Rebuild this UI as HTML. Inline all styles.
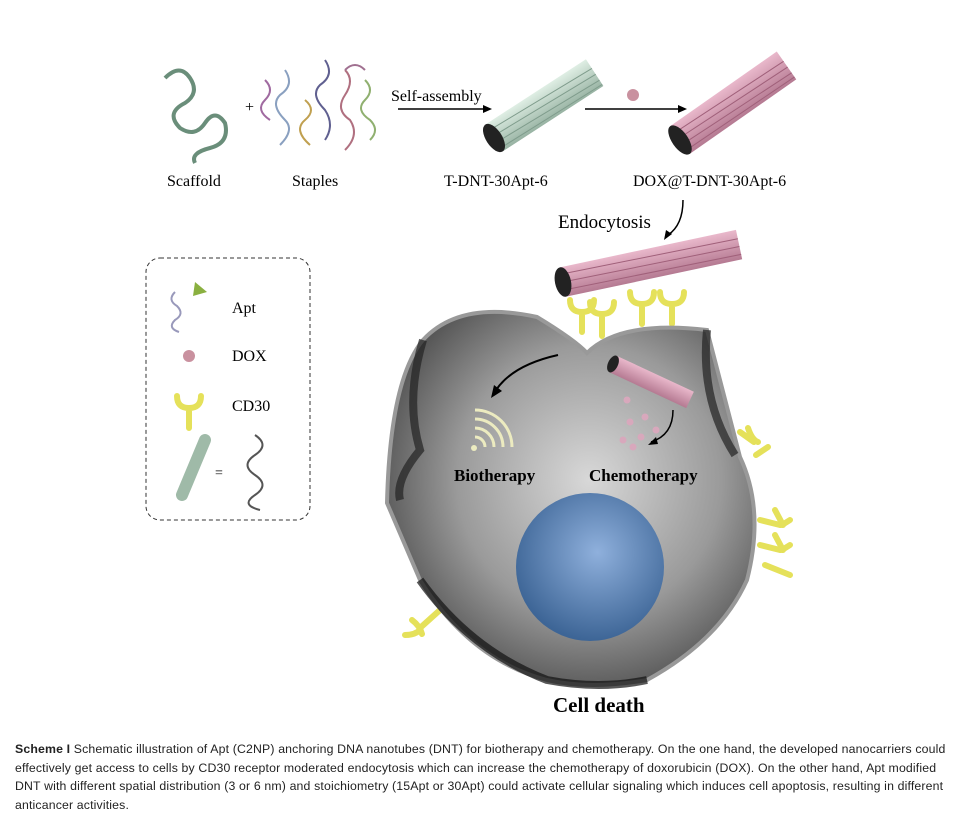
<!DOCTYPE html>
<html><head><meta charset="utf-8"><style>
body{margin:0;background:#fff;width:975px;height:820px;overflow:hidden;font-family:"Liberation Serif",serif}
.cap{position:absolute;left:15px;top:740px;width:960px;font-family:"Liberation Sans",sans-serif;font-size:12.3px;line-height:18.5px;color:#222;white-space:nowrap;letter-spacing:0.15px}
</style></head><body>
<svg width="975" height="740" style="position:absolute;left:0;top:0" xmlns="http://www.w3.org/2000/svg">
<defs>
<radialGradient id="cg" cx="0.55" cy="0.45" r="0.6"><stop offset="0" stop-color="#d8d8d8"/><stop offset="0.6" stop-color="#9a9a9a"/><stop offset="1" stop-color="#505050"/></radialGradient>
<radialGradient id="ng" cx="0.55" cy="0.4" r="0.6"><stop offset="0" stop-color="#8fb0dc"/><stop offset="1" stop-color="#3d6596"/></radialGradient>
<linearGradient id="pk" x1="0" y1="0" x2="0" y2="1"><stop offset="0" stop-color="#e9b8cb"/><stop offset="1" stop-color="#b57a92"/></linearGradient>
<linearGradient id="gn" x1="0" y1="0" x2="0" y2="1"><stop offset="0" stop-color="#dfeee4"/><stop offset="1" stop-color="#98b3a3"/></linearGradient>
</defs>
<path d="M165 78 q15-15 25 0 q10 15-5 25 q-20 10-5 25 q15 10 25-5 q10-15 20 0 q5 20-15 25 q-20 5-15 15" fill="none" stroke="#6a8e7a" stroke-width="4"/>
<text x="245" y="112" font-size="16">+</text>
<text x="167" y="186" font-size="16">Scaffold</text>
<g fill="none" stroke-width="2">
<path d="M265 80 q10 10 0 20 q-10 10 5 20" stroke="#a06aa0"/>
<path d="M285 70 q10 15-5 25 q-10 10 5 25 q10 10-5 25" stroke="#8aa0c0"/>
<path d="M305 100 q12 10 0 20 q-12 10 5 25" stroke="#c0a050"/>
<path d="M325 60 q10 15-5 25 q-10 10 5 25 q10 15 0 30" stroke="#606090"/>
<path d="M345 70 q10 10 0 25 q-10 15 5 25 q10 15-5 30" stroke="#b07080"/>
<path d="M365 80 q10 10 0 20 q-10 10 5 20 q10 10 0 20" stroke="#90b070"/>
<path d="M345 70 q10-10 20 0" stroke="#a07090"/>
</g>
<text x="292" y="186" font-size="16">Staples</text>
<text x="391" y="101" font-size="16">Self-assembly</text>
<line x1="398" y1="109" x2="486" y2="109" stroke="#000" stroke-width="1.5"/><path d="M492 109 l-9-4 v8z"/>
<g transform="translate(494,138) rotate(-33)"><rect x="0" y="-16" width="120" height="32" fill="url(#gn)"/><g stroke="#7f9c8c" stroke-width="1"><line x1="0" y1="-9" x2="120" y2="-5"/><line x1="0" y1="-2" x2="120" y2="2"/><line x1="0" y1="5" x2="120" y2="9"/><line x1="0" y1="12" x2="120" y2="14"/></g><ellipse cx="0" cy="0" rx="8" ry="16" fill="#222"/></g>
<text x="444" y="186" font-size="16">T-DNT-30Apt-6</text>
<circle cx="633" cy="95" r="6" fill="#c9919f"/>
<line x1="585" y1="109" x2="680" y2="109" stroke="#000" stroke-width="1.5"/><path d="M687 109 l-9-4 v8z"/>
<g transform="translate(680,140) rotate(-35)"><rect x="0" y="-17" width="130" height="34" fill="url(#pk)"/><g stroke="#a0607a" stroke-width="1"><line x1="0" y1="-9" x2="130" y2="-5"/><line x1="0" y1="-2" x2="130" y2="2"/><line x1="0" y1="5" x2="130" y2="9"/><line x1="0" y1="12" x2="130" y2="14"/></g><ellipse cx="0" cy="0" rx="8" ry="17" fill="#222"/></g>
<text x="633" y="186" font-size="16">DOX@T-DNT-30Apt-6</text>
<text x="558" y="228" font-size="19">Endocytosis</text>
<path d="M683 200 q0 25-15 35" fill="none" stroke="#000" stroke-width="1.5"/><path d="M664 240 l2-10 6 4z"/>
<rect x="146" y="258" width="164" height="262" rx="14" fill="none" stroke="#333" stroke-dasharray="4,3"/>
<path d="M175 292 q-8 8 2 14 q8 8-2 14 q-8 8 4 12" fill="none" stroke="#9999bb" stroke-width="2"/><path d="M195 282 l12 10 -14 4z" fill="#8ab040"/>
<text x="232" y="313" font-size="16">Apt</text>
<circle cx="189" cy="356" r="6" fill="#c9919f"/><text x="232" y="361" font-size="16">DOX</text>
<path d="M177 396 q0 12 12 12 q12 0 12-12 M189 408 v20" fill="none" stroke="#e5e15a" stroke-width="6" stroke-linecap="round"/>
<text x="232" y="411" font-size="16">CD30</text>
<line x1="182" y1="495" x2="205" y2="440" stroke="#9fbaa8" stroke-width="12" stroke-linecap="round"/>
<text x="215" y="477" font-size="14">=</text>
<path d="M255 435 q15 10 0 20 q-15 10 0 20 q15 10 0 20 q-15 10 5 15" fill="none" stroke="#555" stroke-width="2"/>
<g fill="none" stroke="#e5e15a" stroke-width="6" stroke-linecap="round">
<path d="M570 300 q0 12 12 12 q12 0 12-12 M582 312 v20"/><path d="M590 302 q0 12 12 12 q12 0 12-12 M602 314 v22"/>
<path d="M630 292 q0 12 12 12 q12 0 12-12 M642 304 v20"/><path d="M660 292 q0 12 12 12 q12 0 12-12 M672 304 v20"/>
<path d="M740 432 l14 10 M748 428 q4 12 10 14 M756 455 l12-8"/>
<path d="M760 520 l20 5 M775 510 l8 15 M790 520 l-8 5"/><path d="M760 545 l20 5 M775 535 l8 15 M790 545 l-8 5"/><path d="M765 565 l25 10"/>
<path d="M440 610 l-20 18 M412 620 q8 6 10 14 M405 635 q10 0 15-5"/>
</g>
<path d="M387 503 Q390 380 423 340 Q460 300 537 317 Q575 340 587 353 Q620 320 707 330 Q720 380 740 457 Q765 510 747 580 Q720 640 647 680 Q590 690 547 680 Q470 660 420 580 Z" fill="url(#cg)" stroke="#999" stroke-width="4"/>
<path d="M423 340 Q405 400 420 450 Q395 480 400 500" fill="none" stroke="#222" stroke-width="8" opacity="0.7"/>
<path d="M707 330 Q700 400 735 455" fill="none" stroke="#222" stroke-width="8" opacity="0.7"/>
<path d="M420 580 Q470 650 547 680 Q600 690 647 680" fill="none" stroke="#111" stroke-width="8" opacity="0.7"/>
<g transform="translate(563,282) rotate(-12)"><rect x="0" y="-15" width="180" height="30" fill="url(#pk)"/><g stroke="#a0607a"><line x1="0" y1="-8" x2="180" y2="-6"/><line x1="0" y1="0" x2="180" y2="2"/><line x1="0" y1="8" x2="180" y2="10"/></g><ellipse cx="0" cy="0" rx="8" ry="15" fill="#222"/></g>
<g transform="translate(613,364) rotate(25)"><rect x="0" y="-9" width="85" height="18" fill="url(#pk)"/><ellipse cx="0" cy="0" rx="5" ry="9" fill="#222"/></g>
<g fill="#d8a8bc"><circle cx="627" cy="400" r="3.5"/><circle cx="630" cy="422" r="3.5"/><circle cx="645" cy="417" r="3.5"/><circle cx="656" cy="430" r="3.5"/><circle cx="641" cy="437" r="3.5"/><circle cx="623" cy="440" r="3.5"/><circle cx="633" cy="447" r="3.5"/></g>
<path d="M673 410 q0 25-22 32" fill="none" stroke="#000" stroke-width="1.5"/><path d="M648 445 l8-8 2 7z"/>
<path d="M558 355 q-45 10-62 35" fill="none" stroke="#000" stroke-width="2"/><path d="M491 398 l3-13 8 6z"/>
<g fill="none" stroke="#ecebc0" stroke-width="3"><path d="M475 437 a10 10 0 0 1 10 10"/><path d="M475 428 a19 19 0 0 1 19 19"/><path d="M475 419 a28 28 0 0 1 28 28"/><path d="M475 410 a37 37 0 0 1 37 37"/></g>
<circle cx="474" cy="448" r="3" fill="#ecebc0"/>
<text x="454" y="481" font-size="17" font-weight="bold">Biotherapy</text>
<text x="589" y="481" font-size="17" font-weight="bold">Chemotherapy</text>
<circle cx="590" cy="567" r="74" fill="url(#ng)"/>
<text x="553" y="712" font-size="21" font-weight="bold">Cell death</text>
</svg>
<div class="cap"><b>Scheme I</b> Schematic illustration of Apt (C2NP) anchoring DNA nanotubes (DNT) for biotherapy and chemotherapy. On the one hand, the developed nanocarriers could<br>effectively get access to cells by CD30 receptor moderated endocytosis which can increase the chemotherapy of doxorubicin (DOX). On the other hand, Apt modified<br>DNT with different spatial distribution (3 or 6 nm) and stoichiometry (15Apt or 30Apt) could activate cellular signaling which induces cell apoptosis, resulting in different<br>anticancer activities.</div>
</body></html>
